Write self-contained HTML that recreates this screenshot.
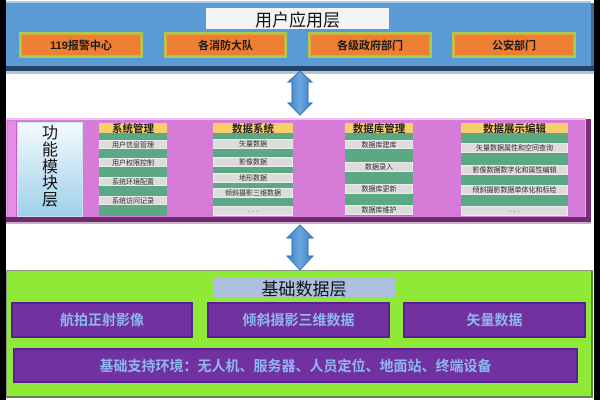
<!DOCTYPE html>
<html><head><meta charset="utf-8">
<style>
*{margin:0;padding:0;box-sizing:border-box}
body{width:600px;height:400px;position:relative;background:#fff;overflow:hidden;font-family:"Liberation Sans","Noto Sans CJK SC",sans-serif}
.a{position:absolute}
.c{display:flex;align-items:center;justify-content:center;white-space:nowrap}
.or{background:#ee7e32;border:2px solid #9fd24a;box-shadow:inset 0 0 0 1px #e8a040;font-weight:bold;font-size:11px;color:#1a1a1a}
.hd{background:#f7cf68;font-weight:bold;font-size:10.5px;color:#222;height:10px;top:123px}
.gb{background:#5aa884;top:133px;height:83px}
.it{background:#dcdcdc;border:1px solid #ececec;font-size:7px;color:#333}
.pu{background:#7131a1;border:2px solid #5b1d9a;color:#8fb6ee;font-weight:bold;font-size:14px}
</style></head><body>
<div class="a" style="left:0;top:0;width:6px;height:400px;background:#000"></div>
<div class="a" style="left:594px;top:0;width:6px;height:400px;background:#000"></div>

<div class="a" style="left:6px;top:1px;width:585px;height:66px;background:#5b9bd5;border-top:2px solid #a9cbe9"></div>
<div class="a" style="left:591px;top:3px;width:3px;height:66px;background:#3d6d99"></div>
<div class="a" style="left:6px;top:66px;width:588px;height:5px;background:#24456a"></div>
<div class="a" style="left:6px;top:71px;width:588px;height:3px;background:#b8c4cc"></div>
<div class="a c" style="left:206px;top:8px;width:183px;height:21px;background:#f4f4f4;font-size:17px;color:#111">用户应用层</div>
<div class="a c or" style="left:19px;top:32px;width:124px;height:26px">119报警中心</div>
<div class="a c or" style="left:164px;top:32px;width:123px;height:26px">各消防大队</div>
<div class="a c or" style="left:308px;top:32px;width:124px;height:26px">各级政府部门</div>
<div class="a c or" style="left:452px;top:32px;width:124px;height:26px">公安部门</div>

<svg class="a" style="left:284px;top:70px" width="32" height="48" viewBox="0 0 32 48">
<defs><linearGradient id="ag" x1="0" x2="1" y1="0" y2="0"><stop offset="0" stop-color="#3f7fc4"/><stop offset="0.5" stop-color="#6aa6e0"/><stop offset="1" stop-color="#3f7fc4"/></linearGradient></defs>
<polygon points="16,1 28,12 24,12 24,33 28,33 16,45 4,33 8,33 8,12 4,12" fill="url(#ag)" stroke="#3a74b4" stroke-width="1"/>
</svg>

<div class="a" style="left:6px;top:118px;width:580px;height:100px;background:#d67bd8;border:1px solid #e9a6e9;border-top:2px solid #f0c0f0"></div>
<div class="a" style="left:8px;top:121px;width:9px;height:96px;background:#e48ee4;border-right:1px solid #c060c8"></div>
<div class="a" style="left:586px;top:119px;width:5px;height:102px;background:#7a2f78"></div>
<div class="a" style="left:6px;top:217px;width:585px;height:5px;background:#6e2a6c"></div>
<div class="a" style="left:6px;top:222px;width:585px;height:2px;background:#c8b0c8"></div>

<div class="a" style="left:17px;top:122px;width:66px;height:95px;background:linear-gradient(#f4fafd,#9fd0ea);border:1px solid #c8e4f2"></div>
<div class="a" style="left:17px;top:126px;width:66px;font-size:16px;line-height:16.8px;color:#111;text-align:center">功<br>能<br>模<br>块<br>层</div>

<div class="a c hd" style="left:99px;width:68px">系统管理</div>
<div class="a gb" style="left:99px;width:68px"></div>
<div class="a c it" style="left:99px;top:140px;width:68px;height:9px">用户信息管理</div>
<div class="a c it" style="left:99px;top:158px;width:68px;height:9px">用户权限控制</div>
<div class="a c it" style="left:99px;top:177px;width:68px;height:9px">系统环境配置</div>
<div class="a c it" style="left:99px;top:196px;width:68px;height:9px">系统访问记录</div>

<div class="a c hd" style="left:213px;width:80px">数据系统</div>
<div class="a gb" style="left:213px;width:80px"></div>
<div class="a c it" style="left:213px;top:139px;width:80px;height:10px">矢量数据</div>
<div class="a c it" style="left:213px;top:157px;width:80px;height:10px">影像数据</div>
<div class="a c it" style="left:213px;top:173px;width:80px;height:10px">地形数据</div>
<div class="a c it" style="left:213px;top:188px;width:80px;height:10px">倾斜摄影三维数据</div>
<div class="a c it" style="left:213px;top:206px;width:80px;height:10px">· · ·</div>

<div class="a c hd" style="left:345px;width:68px">数据库管理</div>
<div class="a gb" style="left:345px;width:68px"></div>
<div class="a c it" style="left:345px;top:140px;width:68px;height:9px">数据库建库</div>
<div class="a c it" style="left:345px;top:162px;width:68px;height:10px">数据录入</div>
<div class="a c it" style="left:345px;top:184px;width:68px;height:10px">数据库更新</div>
<div class="a c it" style="left:345px;top:205px;width:68px;height:10px">数据库维护</div>

<div class="a c hd" style="left:461px;width:107px">数据展示编辑</div>
<div class="a gb" style="left:461px;width:107px"></div>
<div class="a c it" style="left:461px;top:143px;width:107px;height:10px">矢量数据属性和空间查询</div>
<div class="a c it" style="left:461px;top:165px;width:107px;height:10px">影像数据数字化和属性编辑</div>
<div class="a c it" style="left:461px;top:185px;width:107px;height:10px">倾斜摄影数据单体化和标绘</div>
<div class="a c it" style="left:461px;top:206px;width:107px;height:10px">· · ·</div>

<svg class="a" style="left:284px;top:224px" width="32" height="48" viewBox="0 0 32 48">
<defs><linearGradient id="ag2" x1="0" x2="1" y1="0" y2="0"><stop offset="0" stop-color="#3f7fc4"/><stop offset="0.5" stop-color="#6aa6e0"/><stop offset="1" stop-color="#3f7fc4"/></linearGradient></defs>
<polygon points="16,1 29,14 24,14 24,32 29,32 16,46 3,32 8,32 8,14 3,14" fill="url(#ag2)" stroke="#3a74b4" stroke-width="1"/>
</svg>

<div class="a" style="left:6px;top:270px;width:587px;height:128px;background:#8fea38;border:1px solid #8a9a80;border-right:2px solid #5a8a30;border-bottom:2px solid #6a7a60"></div>
<div class="a c" style="left:213px;top:277px;width:182px;height:20px;background:#adc0de;font-size:17px;color:#111">基础数据层</div>
<div class="a c pu" style="left:11px;top:302px;width:182px;height:36px">航拍正射影像</div>
<div class="a c pu" style="left:207px;top:302px;width:183px;height:36px">倾斜摄影三维数据</div>
<div class="a c pu" style="left:403px;top:302px;width:183px;height:36px">矢量数据</div>
<div class="a c pu" style="left:13px;top:348px;width:565px;height:35px;font-size:14px">基础支持环境：无人机、服务器、人员定位、地面站、终端设备</div>
</body></html>
